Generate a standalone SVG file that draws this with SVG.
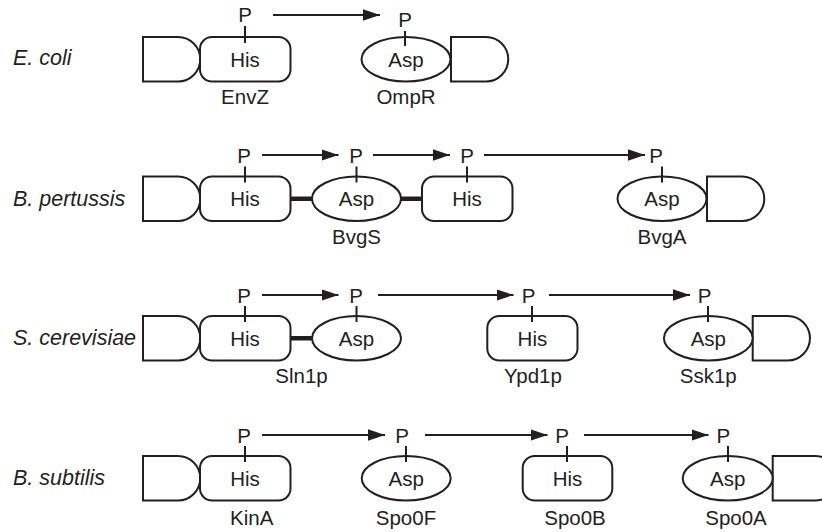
<svg xmlns="http://www.w3.org/2000/svg" width="822" height="532" viewBox="0 0 822 532">
  <style>
    .sh { fill: #fff; stroke: #231f20; stroke-width: 2; }
    .tick { stroke: #231f20; stroke-width: 2; }
    .link { stroke: #231f20; stroke-width: 4.5; }
    .arr { stroke: #231f20; stroke-width: 2; fill: none; marker-end: url(#head); }
    text { font-family: "Liberation Sans", Arial, sans-serif; fill: #231f20; }
    .t { font-size: 20.5px; text-anchor: middle; }
    .sp { font-size: 21.5px; font-style: italic; }
  </style>
  <defs>
    <marker id="head" markerUnits="userSpaceOnUse" markerWidth="17" markerHeight="12" refX="17" refY="5.75" orient="auto">
      <path d="M0,0 L17,5.75 L0,11.5 Z" fill="#231f20"/>
    </marker>
    <!-- domain shapes in row-local coordinates (box top 37, height 44.5) -->
    <path id="dom" d="M0,37 H35 A22.25,22.25 0 0 1 35,81.5 H0 Z"/>
  </defs>

  <!-- Row 1: E. coli -->
  <g id="row-ecoli">
    <text class="sp" x="13" y="65">E. coli</text>
    <g id="EnvZ">
      <use href="#dom" class="sh" x="143"/>
      <rect class="sh" x="200" y="37" width="90.5" height="44.5" rx="12"/>
      <line class="tick" x1="245" y1="26" x2="245" y2="43"/>
      <text class="t" x="245" y="22">P</text>
      <text class="t" x="245" y="66.5">His</text>
      <text class="t" x="245" y="103.5">EnvZ</text>
    </g>
    <g id="OmpR">
      <use href="#dom" class="sh" x="451"/>
      <ellipse class="sh" cx="406" cy="59.25" rx="44.5" ry="22.25"/>
      <line class="tick" x1="405" y1="31" x2="405" y2="46"/>
      <text class="t" x="405" y="27">P</text>
      <text class="t" x="406" y="66.5">Asp</text>
      <text class="t" x="406" y="103.5">OmpR</text>
    </g>
  </g>

  <!-- Row 2: B. pertussis -->
  <g id="row-bpertussis" transform="translate(0,139.5)">
    <text class="sp" x="13" y="66">B. pertussis</text>
    <g id="BvgS">
      <line class="link" x1="290" y1="59.25" x2="313" y2="59.25"/>
      <line class="link" x1="400" y1="59.25" x2="423" y2="59.25"/>
      <use href="#dom" class="sh" x="143"/>
      <rect class="sh" x="200" y="37" width="90.5" height="44.5" rx="12"/>
      <ellipse class="sh" cx="356.5" cy="59.25" rx="44.5" ry="22.25"/>
      <rect class="sh" x="422" y="37" width="90.5" height="44.5" rx="12"/>
      <line class="tick" x1="245" y1="27" x2="245" y2="43"/>
      <line class="tick" x1="356.5" y1="27" x2="356.5" y2="43"/>
      <line class="tick" x1="467" y1="27" x2="467" y2="43"/>
      <text class="t" x="244" y="23.5">P</text>
      <text class="t" x="356" y="23.5">P</text>
      <text class="t" x="467" y="23.5">P</text>
      <text class="t" x="245" y="66.5">His</text>
      <text class="t" x="356.5" y="66.5">Asp</text>
      <text class="t" x="467" y="66.5">His</text>
      <text class="t" x="356.5" y="104">BvgS</text>
    </g>
    <g id="BvgA">
      <use href="#dom" class="sh" x="707"/>
      <ellipse class="sh" cx="662" cy="59.25" rx="44.5" ry="22.25"/>
      <line class="tick" x1="662" y1="27" x2="662" y2="43"/>
      <text class="t" x="656" y="23.5">P</text>
      <text class="t" x="662" y="66.5">Asp</text>
      <text class="t" x="662" y="104">BvgA</text>
    </g>
  </g>

  <!-- Row 3: S. cerevisiae -->
  <g id="row-scerevisiae" transform="translate(0,279)">
    <text class="sp" x="13" y="66">S. cerevisiae</text>
    <g id="Sln1p">
      <line class="link" x1="290" y1="59.25" x2="313" y2="59.25"/>
      <use href="#dom" class="sh" x="143"/>
      <rect class="sh" x="200" y="37" width="90.5" height="44.5" rx="12"/>
      <ellipse class="sh" cx="356.5" cy="59.25" rx="44.5" ry="22.25"/>
      <line class="tick" x1="245" y1="27" x2="245" y2="43"/>
      <line class="tick" x1="356.5" y1="27" x2="356.5" y2="43"/>
      <text class="t" x="244" y="23.5">P</text>
      <text class="t" x="356" y="23.5">P</text>
      <text class="t" x="245" y="66.5">His</text>
      <text class="t" x="356.5" y="66.5">Asp</text>
      <text class="t" x="301.5" y="103.5">Sln1p</text>
    </g>
    <g id="Ypd1p">
      <rect class="sh" x="487.3" y="37" width="90.2" height="44.5" rx="12"/>
      <line class="tick" x1="532" y1="27" x2="532" y2="43"/>
      <text class="t" x="528.5" y="23.5">P</text>
      <text class="t" x="532.4" y="66.5">His</text>
      <text class="t" x="533" y="103.5">Ypd1p</text>
    </g>
    <g id="Ssk1p">
      <use href="#dom" class="sh" x="752.7"/>
      <ellipse class="sh" cx="708.3" cy="59.25" rx="44.4" ry="22.25"/>
      <line class="tick" x1="708" y1="27" x2="708" y2="43"/>
      <text class="t" x="704.5" y="23.5">P</text>
      <text class="t" x="708.3" y="66.5">Asp</text>
      <text class="t" x="708.3" y="103.5">Ssk1p</text>
    </g>
  </g>

  <!-- Row 4: B. subtilis -->
  <g id="row-bsubtilis" transform="translate(0,419)">
    <text class="sp" x="13" y="66">B. subtilis</text>
    <g id="KinA">
      <use href="#dom" class="sh" x="143"/>
      <rect class="sh" x="200" y="37" width="90.5" height="44.5" rx="12"/>
      <line class="tick" x1="245" y1="27" x2="245" y2="43"/>
      <text class="t" x="244" y="23.5">P</text>
      <text class="t" x="245" y="66.5">His</text>
      <text class="t" x="251.7" y="105.5">KinA</text>
    </g>
    <g id="Spo0F">
      <ellipse class="sh" cx="406.2" cy="59.25" rx="44.5" ry="22.25"/>
      <line class="tick" x1="406" y1="27" x2="406" y2="43"/>
      <text class="t" x="402" y="23.5">P</text>
      <text class="t" x="406.2" y="66.5">Asp</text>
      <text class="t" x="406" y="105.5">Spo0F</text>
    </g>
    <g id="Spo0B">
      <rect class="sh" x="522.7" y="37" width="89.6" height="44.5" rx="12"/>
      <line class="tick" x1="567" y1="27" x2="567" y2="43"/>
      <text class="t" x="562" y="23.5">P</text>
      <text class="t" x="567.5" y="66.5">His</text>
      <text class="t" x="575" y="105.5">Spo0B</text>
    </g>
    <g id="Spo0A">
      <path class="sh" d="M772.7,37 H815 A22.25,22.25 0 0 1 815,81.5 H772.7 Z"/>
      <ellipse class="sh" cx="727.7" cy="59.25" rx="45" ry="22.25"/>
      <line class="tick" x1="728" y1="27" x2="728" y2="43"/>
      <text class="t" x="723.3" y="23.5">P</text>
      <text class="t" x="727.7" y="66.5">Asp</text>
      <text class="t" x="736" y="105.5">Spo0A</text>
    </g>
  </g>

  <!-- phosphoryl transfer arrows -->
  <g id="connectors">
    <line class="arr" x1="273" y1="15" x2="380" y2="15"/>
    <line class="arr" x1="262" y1="155" x2="338.5" y2="155"/>
    <line class="arr" x1="373" y1="155" x2="450" y2="155"/>
    <line class="arr" x1="484" y1="155" x2="645" y2="155"/>
    <line class="arr" x1="262" y1="295" x2="338.5" y2="295"/>
    <line class="arr" x1="378" y1="295" x2="513.5" y2="295"/>
    <line class="arr" x1="549" y1="295" x2="690" y2="295"/>
    <line class="arr" x1="262" y1="435" x2="385" y2="435"/>
    <line class="arr" x1="425" y1="435" x2="547.5" y2="435"/>
    <line class="arr" x1="584" y1="435" x2="708.5" y2="435"/>
  </g>
</svg>
